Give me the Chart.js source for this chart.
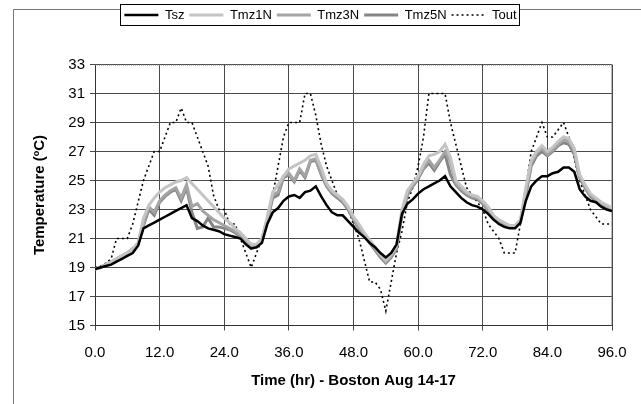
<!DOCTYPE html>
<html>
<head>
<meta charset="utf-8">
<script src="https://cdn.jsdelivr.net/npm/chart.js@4.4.1/dist/chart.umd.min.js"></script>
<style>
  html, body { margin: 0; padding: 0; background: #ffffff; }
  #wrap { width: 641px; height: 404px; position: relative; }
</style>
</head>
<body>
<div id="wrap"><canvas id="c" width="641" height="404"></canvas></div>
<script>
// ---- data ----
const hours = [0,1,2,3,4,5,6,7,8,9,10,11,12,13,14,15,16,17,18,19,20,21,22,23,24,
  25,26,27,28,29,30,31,32,33,34,35,36,37,38,39,40,41,42,43,44,45,46,47,48,
  49,50,51,52,53,54,55,56,57,58,59,60,61,62,63,64,65,66,67,68,69,70,71,72,
  73,74,75,76,77,78,79,80,81,82,83,84,85,86,87,88,89,90,91,92,93,94,95,96];

const Tsz = [18.9,19.0,19.1,19.2,19.4,19.6,19.8,20.0,20.5,21.7,21.9,22.1,22.3,22.5,22.7,22.9,23.1,23.3,22.4,22.2,21.9,21.7,21.6,21.5,21.3,
  21.2,21.1,21.0,20.6,20.3,20.4,20.7,22.0,22.8,23.1,23.6,23.9,24.0,23.8,24.2,24.3,24.6,23.9,23.3,22.8,22.6,22.6,22.2,21.8,
  21.4,21.1,20.7,20.4,20.0,19.7,20.0,20.6,22.7,23.4,23.7,24.1,24.4,24.6,24.8,25.0,25.3,24.6,24.2,23.8,23.5,23.3,23.2,23.0,
  22.7,22.3,22.0,21.8,21.7,21.7,22.1,23.6,24.6,25.0,25.3,25.3,25.5,25.6,25.9,25.9,25.6,24.4,23.9,23.6,23.5,23.2,23.0,22.9];

const Tmz1N = [18.9,19.0,19.2,19.4,19.6,19.8,20.0,20.3,20.7,22.4,23.3,23.8,24.2,24.5,24.7,24.9,25.0,25.2,24.8,24.4,24.0,23.6,23.2,22.8,22.4,
  22.1,21.7,21.4,21.0,20.6,20.6,21.0,22.5,24.2,24.7,25.3,25.8,26.0,26.2,26.4,26.7,26.8,25.9,24.8,24.3,24.0,23.7,23.2,22.5,
  22.0,21.4,20.9,20.4,19.9,19.5,19.9,20.5,23.0,24.3,24.8,25.3,26.1,26.7,26.8,27.0,27.5,26.6,25.0,24.6,24.2,24.0,23.9,23.6,
  23.2,22.6,22.3,22.1,21.9,21.9,22.3,24.5,26.4,27.0,27.4,27.0,27.3,27.7,28.0,27.9,27.2,25.4,24.7,24.1,23.8,23.5,23.3,23.1];

const Tmz3N = [18.9,19.0,19.2,19.4,19.6,19.8,20.0,20.3,20.6,22.0,23.2,22.8,23.6,24.0,24.3,24.5,23.8,24.7,23.2,23.4,22.9,22.6,22.3,22.1,21.9,
  21.7,21.5,21.2,20.8,20.5,20.5,21.0,22.3,24.0,24.2,25.3,25.5,25.0,25.8,25.3,26.4,26.5,25.5,24.7,24.2,23.9,23.6,23.1,22.4,
  21.8,21.3,20.8,20.3,19.8,19.4,19.8,20.4,22.8,24.1,24.7,25.2,25.9,26.4,25.9,26.4,27.0,26.3,24.8,24.4,24.1,23.9,23.8,23.5,
  23.0,22.5,22.2,22.0,21.9,21.9,22.2,24.2,26.2,26.9,27.2,26.8,27.1,27.5,27.8,27.7,27.0,25.3,24.6,24.0,23.7,23.4,23.2,23.0];

const Tmz5N = [18.9,19.0,19.2,19.4,19.6,19.8,20.0,20.3,20.6,21.9,23.0,22.6,23.5,23.9,24.2,24.4,23.6,24.5,22.8,21.7,21.8,22.4,21.8,21.8,21.7,
  21.6,21.4,21.1,20.7,20.4,20.4,20.9,22.2,23.8,24.0,25.2,25.4,24.9,25.7,25.2,26.3,26.4,25.4,24.6,24.1,23.8,23.5,23.0,22.3,
  21.7,21.2,20.7,20.2,19.7,19.3,19.7,20.3,22.6,24.0,24.6,25.1,25.8,26.2,25.7,26.3,26.8,25.4,24.7,24.3,24.0,23.8,23.7,23.4,
  22.9,22.4,22.1,21.9,21.8,21.8,22.1,24.0,26.0,26.7,27.0,26.7,27.0,27.4,27.6,27.5,26.8,25.2,24.5,23.9,23.6,23.3,23.1,22.9];

const Tout = [19.0,19.1,19.3,19.6,21.0,21.0,21.0,22.0,23.5,25.0,26.0,27.0,27.0,28.0,29.0,29.0,30.0,29.0,29.0,28.0,27.0,26.0,24.0,23.0,23.0,
  22.0,22.0,21.0,20.0,19.0,20.0,21.0,22.5,24.0,26.0,28.0,29.0,29.0,29.0,31.0,31.0,29.5,27.5,26.0,25.0,24.0,23.5,23.0,22.0,
  21.0,19.5,18.0,18.0,17.5,16.0,18.0,20.0,21.5,23.5,24.5,26.0,28.0,31.0,31.0,31.0,31.0,29.0,27.5,26.0,24.5,24.0,23.5,23.0,
  22.0,21.5,21.0,20.0,20.0,20.0,22.0,24.5,27.0,28.0,29.0,28.0,28.0,28.5,29.0,28.0,26.5,25.0,24.0,23.0,22.5,22.0,22.0,22.0];

const seriesNames = ['Tsz','Tmz1N','Tmz3N','Tmz5N','Tout'];
const xTicks = [0,12,24,36,48,60,72,84,96];
const yTicks = [15,17,19,21,23,25,27,29,31,33];

// ---- chart ----
function pts(vals){ return hours.map((h,i)=>({x:h, y:vals[i]})); }

const framePlugin = {
  id: 'frame',
  beforeInit(chart){
    const orig = chart.legend.fit;
    chart.legend.fit = function(){ orig.call(this); this.height = 61; };
  },
  beforeDraw(chart){
    const {ctx} = chart;
    ctx.save();
    // outer frame (left + top)
    ctx.strokeStyle = '#777';
    ctx.lineWidth = 1;
    ctx.beginPath();
    ctx.moveTo(13.5, 404); ctx.lineTo(13.5, 9.5); ctx.lineTo(641, 9.5);
    ctx.stroke();
    // legend box (drawn before the legend items)
    const hb = chart.legend.legendHitBoxes;
    if (hb && hb.length){
      let l = Infinity, r = -Infinity;
      hb.forEach(b=>{ l=Math.min(l,b.left); r=Math.max(r,b.left+b.width); });
      const bx = Math.round(l-4)+0.5, bw = Math.round(r-l+7);
      ctx.fillStyle = '#fff';
      ctx.fillRect(bx, 4.5, bw, 21);
      ctx.strokeStyle = '#000';
      ctx.lineWidth = 1;
      ctx.strokeRect(bx, 4.5, bw, 21);
    }
    ctx.restore();
  },
  beforeDatasetsDraw(chart){
    const {ctx, chartArea:a} = chart;
    ctx.save();
    ctx.strokeStyle = '#777';
    ctx.lineWidth = 1;
    ctx.setLineDash([1,1]);
    ctx.beginPath();
    ctx.moveTo(a.left, a.top+0.5); ctx.lineTo(a.right, a.top+0.5);
    ctx.moveTo(a.right-0.5, a.top); ctx.lineTo(a.right-0.5, a.bottom);
    ctx.stroke();
    ctx.restore();
  }
};

new Chart(document.getElementById('c'), {
  type: 'line',
  data: {
    datasets: [
      {label: seriesNames[0], data: pts(Tsz),   borderColor:'#000000', borderWidth:2.5, pointRadius:0, tension:0},
      {label: seriesNames[1], data: pts(Tmz1N), borderColor:'#c4c4c4', borderWidth:3,   pointRadius:0, tension:0},
      {label: seriesNames[2], data: pts(Tmz3N), borderColor:'#a4a4a4', borderWidth:3,   pointRadius:0, tension:0},
      {label: seriesNames[3], data: pts(Tmz5N), borderColor:'#858585', borderWidth:3,   pointRadius:0, tension:0},
      {label: seriesNames[4], data: pts(Tout),  borderColor:'#000000', borderWidth:1.6, borderDash:[2,3], pointRadius:0, tension:0}
    ]
  },
  options: {
    responsive: false,
    animation: false,
    devicePixelRatio: 1,
    layout: { padding: {top: 3.5, left: 0, right: 0, bottom: 0} },
    plugins: {
      tooltip: {enabled:false},
      legend: {
        display: true,
        position: 'top',
        labels: {
          color: '#000',
          font: {family: 'Liberation Sans, Arial, sans-serif', size: 13},
          usePointStyle: true,
          pointStyle: 'line',
          pointStyleWidth: 34,
          boxHeight: 13,
          padding: 5,
          generateLabels(chart){
            return chart.data.datasets.map((ds,i)=>({
              text: ds.label, fillStyle: ds.borderColor, strokeStyle: ds.borderColor,
              lineWidth: ds.borderWidth, lineDash: ds.borderDash || [], pointStyle:'line',
              hidden:false, datasetIndex:i, fontColor:'#000'
            }));
          }
        }
      }
    },
    scales: {
      x: {
        type: 'linear', min: 0, max: 96,
        afterBuildTicks(s){ s.ticks = xTicks.map(v=>({value:v})); },
        afterFit(s){ s.height = 78.5; },
        ticks: { color:'#000', font:{family:'Liberation Sans, Arial, sans-serif', size:15}, padding: 13, maxRotation:0,
          callback: v => Number(v).toFixed(1) },
        grid: { color:'#4a4a4a', lineWidth:1, tickLength:5, drawTicks:true },
        border: { display:true, color:'#333', width:1 },
        title: { display:true, text:'Time (hr) - Boston Aug 14-17', color:'#000',
          font:{family:'Liberation Sans, Arial, sans-serif', size:15, weight:'bold'}, padding:{top:0,bottom:14} }
      },
      y: {
        type: 'linear', min: 15, max: 33,
        afterBuildTicks(s){ s.ticks = yTicks.map(v=>({value:v})); },
        afterFit(s){ s.width = 95; },
        ticks: { color:'#000', font:{family:'Liberation Sans, Arial, sans-serif', size:15}, padding: 5 },
        grid: { color:'#4a4a4a', lineWidth:1, tickLength:5, drawTicks:true },
        border: { display:true, color:'#333', width:1 },
        title: { display:true, text:'Temperature (ºC)', color:'#000',
          font:{family:'Liberation Sans, Arial, sans-serif', size:15, weight:'bold'}, padding:{top:31,bottom:0} }
      },
      yr: {
        type: 'linear', position: 'right', min: 15, max: 33,
        display: true,
        afterFit(s){ s.width = 29; },
        ticks: { display:false },
        grid: { display:false, drawTicks:false },
        border: { display:false }
      }
    }
  },
  plugins: [framePlugin]
});
</script>
</body>
</html>
